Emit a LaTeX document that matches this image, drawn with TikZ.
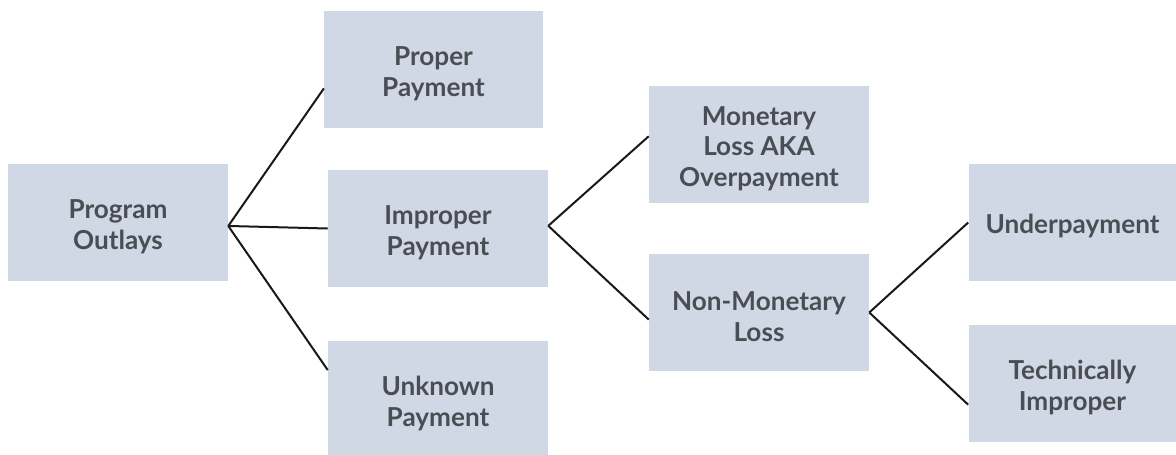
\documentclass[tikz,border=0pt]{standalone}
\usepackage{fontspec}
\setmainfont{Lato}
\usetikzlibrary{calc}
\definecolor{boxfill}{HTML}{D0D8E6}
\definecolor{txt}{HTML}{4A4E54}
\newcommand\tallstrut{\rule{0pt}{20.5pt}}
\begin{document}
\begin{tikzpicture}[x=0.75pt,y=-0.75pt,
  box/.style={fill=boxfill, inner sep=0pt, align=center, text=txt,
    font=\fontsize{19.6}{23.2}\selectfont\bfseries,
    minimum height=88pt},
  onebox/.style={box, execute at begin node={\rule{0pt}{20pt}}},
  link/.style={draw=black!90, line width=1.5pt}]
\useasboundingbox (0,0) rectangle (1176,454);
\fill[white] (0,0) rectangle (1176,454);
\node[box, minimum width=165pt] (po) at (118,222.5) {\tallstrut Program\\Outlays};
\node[box, minimum width=164pt] (pp) at (433.5,69.5) {\tallstrut Proper\\Payment};
\node[box, minimum width=165pt] (ip) at (438,228.5) {\tallstrut Improper\\Payment};
\node[box, minimum width=165pt] (up) at (438,399.5) {\tallstrut Unknown\\Payment};
\node[box, minimum width=165pt] (ml) at (759,144.5) {\tallstrut Monetary\\Loss AKA\\Overpayment};
\node[box, minimum width=165pt] (nm) at (759,312.5) {\tallstrut Non-Monetary\\Loss};
\node[onebox, minimum width=156pt] (un) at (1072.5,222.5) {Underpayment};
\node[box, minimum width=156pt] (ti) at (1072.5,383.5) {\tallstrut Technically\\Improper};
\draw[link] ([yshift=-2.6pt]po.east) -- ($(pp.north west)!0.66!(pp.south west)$);
\draw[link] ([yshift=-2.6pt]po.east) -- (ip.west);
\draw[link] ([yshift=-2.6pt]po.east) -- ($(up.north west)!0.25!(up.south west)$);
\draw[link] ([yshift=2pt]ip.east) -- ($(ml.north west)!0.43!(ml.south west)$);
\draw[link] ([yshift=2pt]ip.east) -- ($(nm.north west)!0.56!(nm.south west)$);
\draw[link] (nm.east) -- (un.west);
\draw[link] (nm.east) -- ($(ti.north west)!0.68!(ti.south west)$);
\end{tikzpicture}
\end{document}
